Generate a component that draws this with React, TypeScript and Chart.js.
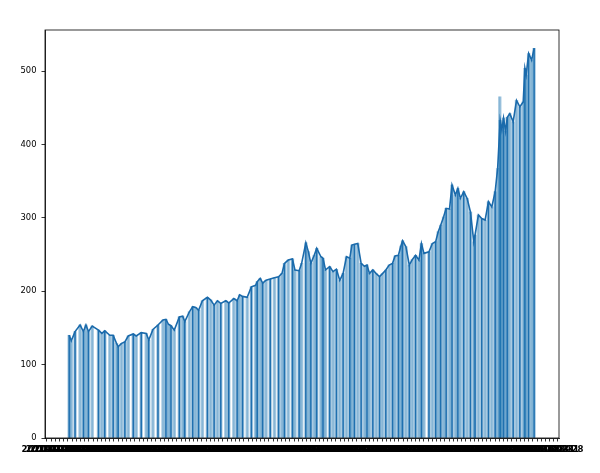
import React, { useEffect, useRef } from "react";
import { Chart, registerables } from "chart.js";

Chart.register(...registerables);

const obsMonth = [
  4.8, 5.3, 6.2, 7.4, 8.2, 8.8, 9.4, 10.3, 11.8, 12.6, 13.3, 14.5, 15.3, 16.1, 16.5, 17.3, 18.1, 18.9,
  20.1, 20.8, 22.0, 23.2, 23.8, 24.8, 26.0, 27.2, 27.9, 28.5, 29.1, 29.9, 31.1, 31.9, 32.4, 33.5, 34.3,
  35.0, 35.7, 36.6, 37.8, 38.6, 39.4, 40.2, 41.0, 42.2, 42.9, 44.1, 44.9, 45.5, 46.2, 47.3, 48.3, 49.3,
  49.7, 50.4, 51.0, 51.8, 52.8, 53.8, 54.8, 55.6, 56.2, 57.1, 58.1, 58.7, 59.7, 60.3, 61.3, 61.9, 62.5,
  63.3, 63.9, 64.9, 65.4, 66.0, 67.0, 67.8, 68.6, 69.4, 70.2, 71.0, 71.8, 72.3, 72.9, 73.7, 74.5, 75.3,
  75.9, 76.5, 77.3, 78.1, 78.9, 79.6, 80.4, 81.2, 82.0, 82.6, 83.4, 84.0, 84.4, 85.2, 86.0, 86.7, 87.5,
  88.3, 88.9, 89.5, 90.7, 91.5, 92.3, 92.9, 93.5, 94.2, 94.8, 95.6, 96.2, 97.0, 97.6, 98.2, 99.0, 99.8,
  100.6, 101.4, 101.7, 102.5, 103.3, 104.1, 104.9, 105.7, 106.5, 107.1, 107.7, 108.1, 108.5, 109.0,
  109.4, 110.0, 110.8, 111.6, 112.4, 113.2, 113.6, 113.9, 114.5, 115.2, 115.8,
];
const obsPrice = [
  140, 132.5, 145, 154, 145, 154, 145, 152.6, 147, 142.6, 146, 140, 140, 129, 124.4, 129, 131, 139,
  141.7, 139, 143.5, 142.6, 133.5, 148, 154, 160.8, 161.7, 155, 153, 147, 165, 166, 158.5, 172, 179,
  178, 174, 187, 191.7, 188, 181, 187, 183.5, 187, 184, 190, 187, 195, 193, 191.7, 206, 208,
  213, 217.5, 211, 215, 216.6, 218.4, 219.8, 224.3, 238, 242.5, 244, 229, 228, 238, 266, 254, 238,
  249, 258.4, 247, 245, 229, 233.4, 226.6, 230, 215, 224.3, 247, 245, 263, 264, 265, 238, 234,
  235.7, 224.3, 229, 224, 220, 224, 229, 235.7, 238, 248, 249, 261.6, 268.8, 260.6, 235.7, 243, 249,
  242.5, 265, 251.6, 253.8, 265, 267.4, 281, 290, 301.5, 313, 312, 344.7, 331, 340, 326.6, 335.6, 326.6,
  308, 267.4, 276.6, 303.8, 299, 297, 322, 315, 335.6, 367.4, 433, 420, 436, 418,
  437, 442, 431, 460, 451.4, 458, 503.7, 494.6, 524, 515, 531,
];
// One bar stands above the line (lighter spike)
const spikeMonth = [107.6];
const spikePrice = [465];

// Tick labels: one per month
const tickYears = ["2011", "2012", "2013", "2014", "2015", "2016", "2017", "2018", "2019", "2020", "2021"];
const tickMonthDays = ["01-31", "02-28", "03-31", "04-30", "05-31", "06-30", "07-31", "08-31", "09-30", "10-31", "11-30", "12-31"];
const tickLabels: string[] = [];
tickYears.forEach((y) => tickMonthDays.forEach((md) => tickLabels.push(`${y}-${md}`)));
tickLabels.length = 122;

const yTicks = [0, 100, 200, 300, 400, 500];

const C0 = "#1f77b4";

export default function App() {
  const ref = useRef<HTMLCanvasElement | null>(null);
  useEffect(() => {
    document.body.style.margin = "0";
    const canvas = ref.current!;
    const linePts = obsMonth.map((m, i) => ({ x: m, y: obsPrice[i] }));
    const barPts = linePts.concat(spikeMonth.map((m, i) => ({ x: m, y: spikePrice[i] })));
    const frame = {
      id: "frame",
      afterDraw(c: any) {
        const { left, right, top, bottom } = c.chartArea;
        const ctx = c.ctx;
        ctx.save();
        ctx.strokeStyle = "#000";
        ctx.lineWidth = 0.8;
        ctx.strokeRect(left, top, right - left, bottom - top);
        ctx.restore();
      },
    };
    const font = { family: "DejaVu Sans", size: 8.4 };
    const chart = new Chart(canvas, {
      data: {
        datasets: [
          {
            type: "line",
            data: linePts,
            borderColor: "#1a6aab",
            borderWidth: 1.6,
            pointRadius: 0,
            tension: 0,
            order: 1,
          } as any,
          {
            type: "bar",
            data: barPts,
            backgroundColor: "rgba(31,119,180,0.38)",
            borderWidth: 0,
            barThickness: 2.8,
            grouped: false,
            order: 2,
          } as any,
          {
            type: "bar",
            data: barPts,
            backgroundColor: (c: any) => (c.dataIndex % 2 === 0 ? "rgba(20,100,170,0.95)" : "rgba(31,119,180,0.25)"),
            borderWidth: 0,
            barThickness: 0.9,
            grouped: false,
            order: 3,
          } as any,
        ],
      },
      options: {
        animation: false,
        responsive: false,
        maintainAspectRatio: false,
        devicePixelRatio: 1,
        layout: { padding: { top: 30, right: 41, left: 0, bottom: 0 } },
        plugins: { legend: { display: false }, tooltip: { enabled: false } },
        scales: {
          x: {
            type: "linear",
            min: -0.47,
            max: 121.24,
            afterBuildTicks: (s: any) => {
              s.ticks = tickLabels.map((_, i) => ({ value: i }));
            },
            afterFit: (s: any) => {
              s.height = 35;
            },
            ticks: {
              autoSkip: false,
              maxRotation: 0,
              minRotation: 0,
              color: "#000",
              font: { family: "DejaVu Sans", size: 8.6, weight: "bold" },
              padding: 3,
              callback: (_v: any, i: number) => tickLabels[i],
            },
            grid: { drawOnChartArea: false, tickLength: 3.5, tickColor: "#000", tickWidth: 0.8 },
            border: { color: "#000", width: 0.8 },
          },
          y: {
            type: "linear",
            min: 0,
            max: 556,
            afterBuildTicks: (s: any) => {
              s.ticks = yTicks.map((v) => ({ value: v }));
            },
            afterFit: (s: any) => {
              s.width = 45;
            },
            ticks: { color: "#000", font, padding: 5 },
            grid: { drawOnChartArea: false, tickLength: 3.5, tickColor: "#000", tickWidth: 0.8 },
            border: { color: "#000", width: 0.8 },
          },
        },
      },
      plugins: [frame],
    } as any);
    return () => chart.destroy();
  }, []);
  return (
    <div style={{ position: "absolute", left: 0, top: 0, width: 600, height: 473, background: "#fff" }}>
      <canvas ref={ref} width={600} height={473} style={{ width: 600, height: 473, display: "block" }} />
    </div>
  );
}
